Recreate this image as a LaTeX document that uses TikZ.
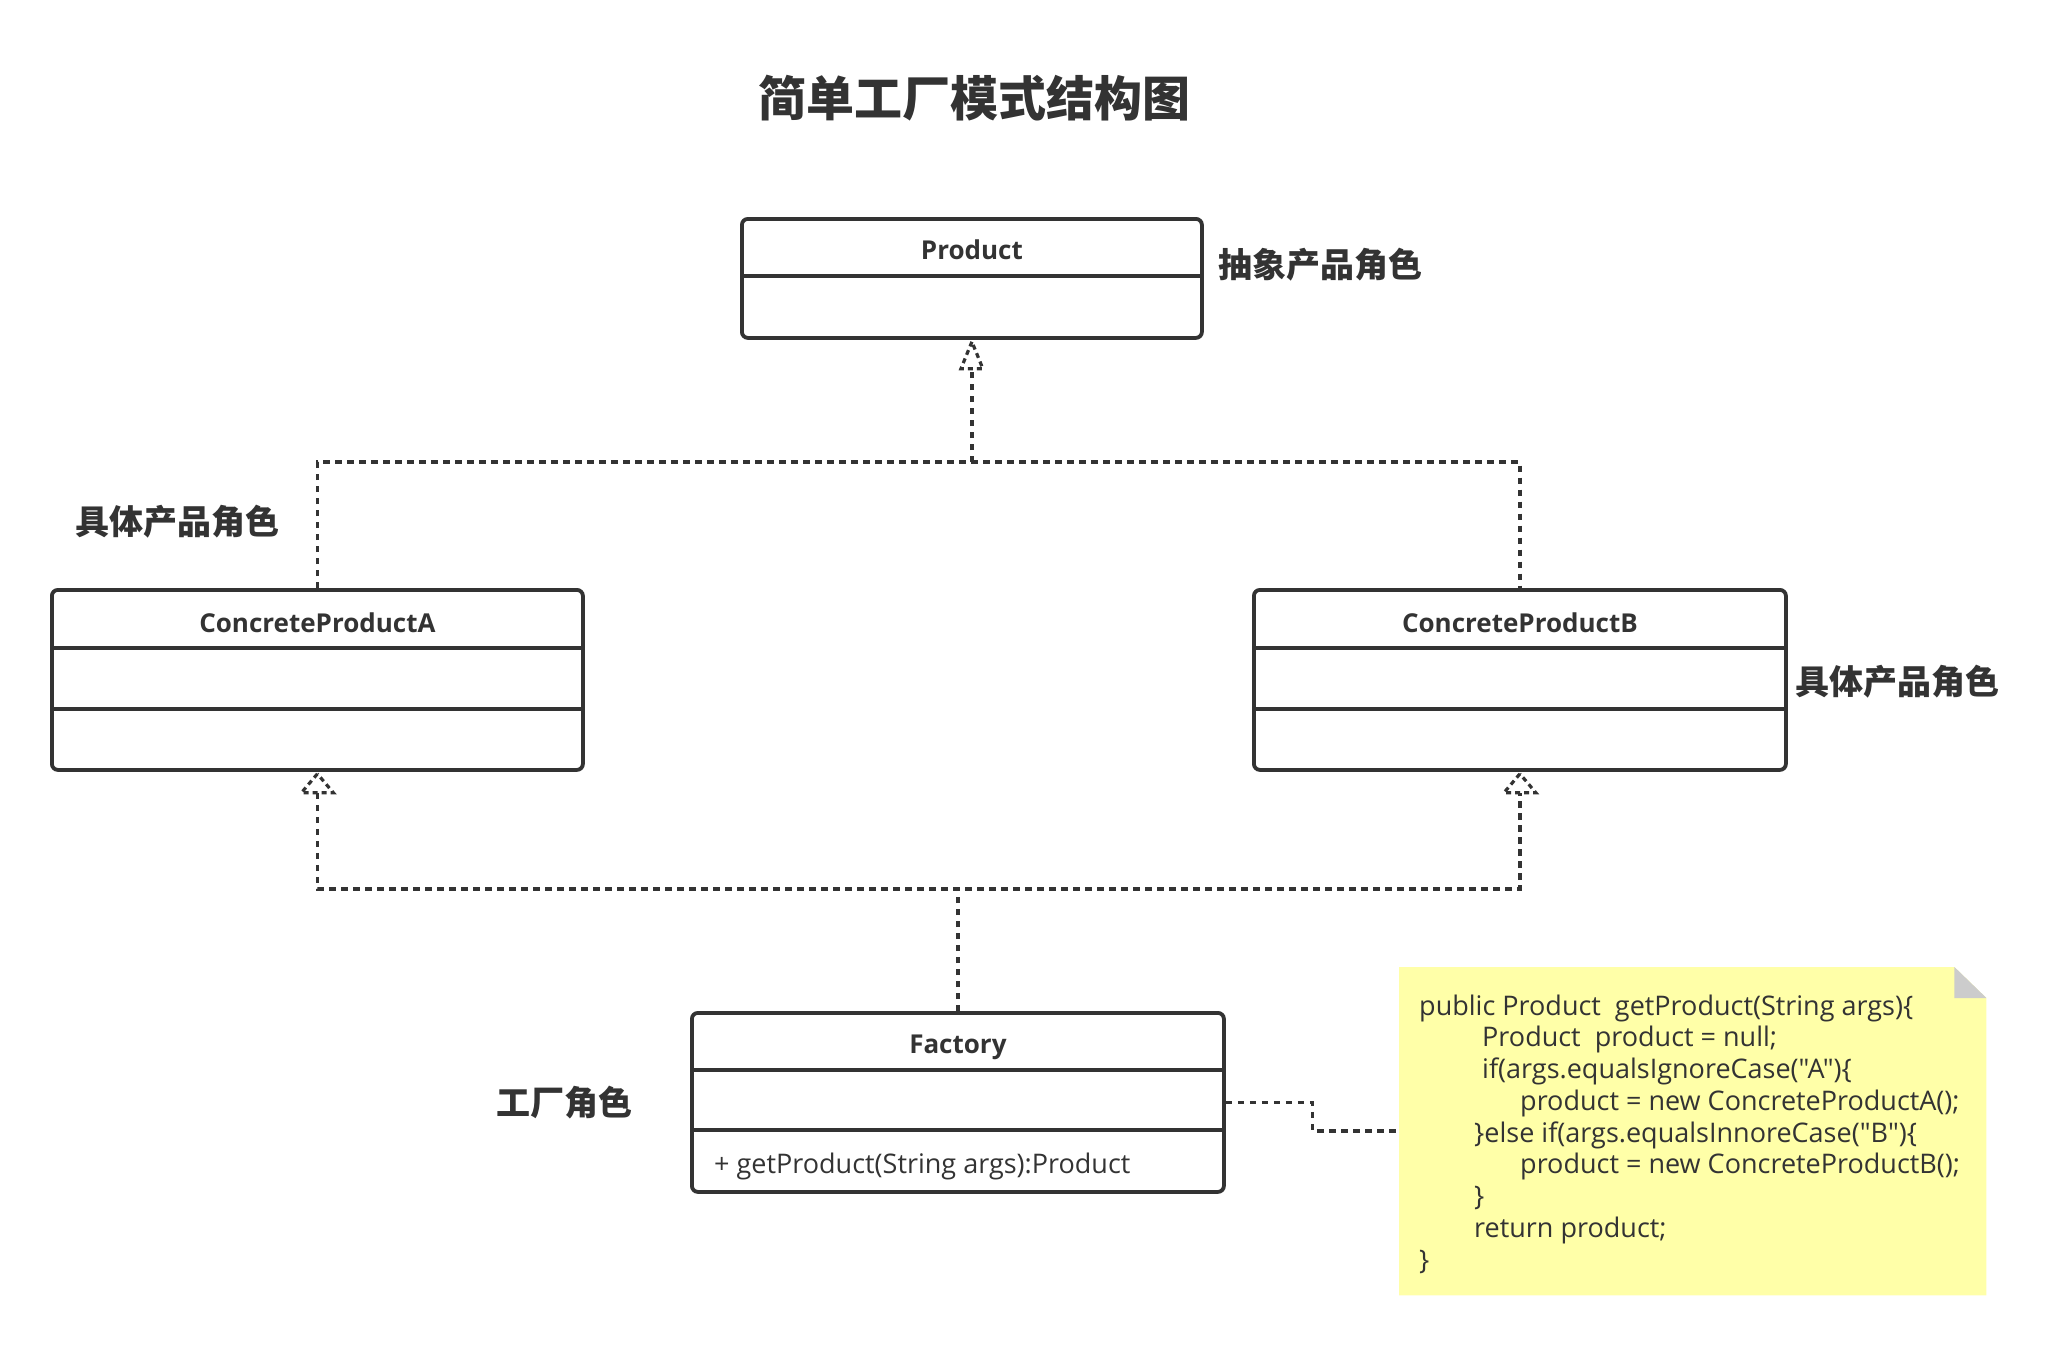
\documentclass[tikz,border=0pt]{standalone}
\usepackage{fontspec}
\setmainfont{Open Sans}
\newfontfamily\codefont{Open Sans}
\newfontfamily\cjk{Noto Sans CJK SC}
\usetikzlibrary{calc}
\definecolor{ink}{HTML}{333333}
\definecolor{notey}{HTML}{FFFFA8}
\definecolor{fold}{HTML}{CCCCCC}
\begin{document}
\begin{tikzpicture}[x=1pt,y=-1pt,
  umlbox/.style={draw=ink, line width=3.8pt, rounded corners=6pt, inner sep=0pt, anchor=north west},
  divider/.style={draw=ink, line width=3.3pt},
  classname/.style={font=\fontsize{26}{30}\selectfont\bfseries, text=ink, inner sep=0pt, anchor=base},
  role/.style={font=\cjk\bfseries\fontsize{34}{40}\selectfont, text=ink, inner sep=0pt, anchor=west},
  dep/.style={draw=ink, line width=3.5pt, dash pattern=on 6.5pt off 5.5pt},
  tipline/.style={draw=ink, line width=3.2pt, dash pattern=on 5pt off 4pt},
  code/.style={font=\codefont\fontsize{27}{32}\selectfont, text=ink, inner sep=0pt, anchor=base west},
]
\useasboundingbox (0,0) rectangle (2058,1347);

% title
\node[font=\cjk\bfseries\fontsize{48}{56}\selectfont, text=ink, inner sep=0pt] (title) at (974,98) {简单工厂模式结构图};

% Product
\node[umlbox, minimum width=460pt, minimum height=119pt] (prod) at (740,217) {};
\draw[divider] ($(prod.north west)+(0,59)$) -- ($(prod.north east)+(0,59)$);
\node[classname] (prodname) at ($(prod.north)+(0,42)$) {Product};
\node[role] (rolep) at (1218,265) {抽象产品角色};

% ConcreteProductA
\node[umlbox, minimum width=531pt, minimum height=180pt] (cpa) at (50,588) {};
\draw[divider] ($(cpa.north west)+(0,60)$) -- ($(cpa.north east)+(0,60)$);
\draw[divider] ($(cpa.north west)+(0,121)$) -- ($(cpa.north east)+(0,121)$);
\node[classname] (cpaname) at ($(cpa.north)+(0,44)$) {ConcreteProductA};
\node[role] (rolea) at (75,522) {具体产品角色};

% ConcreteProductB
\node[umlbox, minimum width=532pt, minimum height=180pt] (cpb) at (1252,588) {};
\draw[divider] ($(cpb.north west)+(0,60)$) -- ($(cpb.north east)+(0,60)$);
\draw[divider] ($(cpb.north west)+(0,121)$) -- ($(cpb.north east)+(0,121)$);
\node[classname] (cpbname) at ($(cpb.north)+(0,44)$) {ConcreteProductB};
\node[role] (roleb) at (1795,682) {具体产品角色};

% Factory
\node[umlbox, minimum width=532pt, minimum height=179pt] (fac) at (690,1011) {};
\draw[divider] ($(fac.north west)+(0,59)$) -- ($(fac.north east)+(0,59)$);
\draw[divider] ($(fac.north west)+(0,119)$) -- ($(fac.north east)+(0,119)$);
\node[classname] (facname) at ($(fac.north)+(0,42)$) {Factory};
\node[code] (method) at (714,1173) {+ getProduct(String args):Product};
\node[role] (rolef) at (496,1103) {工厂角色};

% note
\node[inner sep=0pt, minimum width=587pt, minimum height=328pt, anchor=north west] (note) at (1399,967) {};
\fill[notey] (note.north west) -- ($(note.north east)+(-32,0)$) -- ($(note.north east)+(0,31)$) -- (note.south east) -- (note.south west) -- cycle;
\fill[fold] ($(note.north east)+(-32,0)$) -- ($(note.north east)+(-32,31)$) -- ($(note.north east)+(0,31)$) -- cycle;
\node[code] (c1) at (1419,1015) {public Product\ \ getProduct(String args)\{};
\node[code] (c2) at (1482,1046.75) {Product\ \ product = null;};
\node[code] (c3) at (1482,1078.5) {if(args.equalsIgnoreCase("A")\{};
\node[code] (c4) at (1520,1110.25) {product = new ConcreteProductA();};
\node[code] (c5) at (1474,1142) {\}else if(args.equalsInnoreCase("B")\{};
\node[code] (c6) at (1520,1173.75) {product = new ConcreteProductB();};
\node[code] (c7) at (1474,1205.5) {\}};
\node[code] (c8) at (1474,1237.25) {return product;};
\node[code] (c9) at (1419,1269) {\}};

% realization connectors: products -> Product
\coordinate (h1) at (0,462);
\draw[dep] (cpa.north) -- (cpa.north |- h1) -- (cpb.north |- h1) -- (cpb.north);
\draw[dep] (prod.south |- h1) -- ($(prod.south)+(0,29)$);
\draw[tipline] ($(prod.south)+(0,2)$) -- ++(-11,27) -- ++(22,0) -- cycle;

% dependency connectors: Factory -> products
\coordinate (h2) at (0,889);
\draw[dep] (fac.north) -- (fac.north |- h2);
\draw[dep] ($(cpa.south)+(0,21)$) -- (cpa.south |- h2) -- (cpb.south |- h2) -- ($(cpb.south)+(0,21)$);
\draw[tipline] ($(cpa.south)+(0,2)$) -- ++(-16,19) -- ++(32,0) -- cycle;
\draw[tipline] ($(cpb.south)+(0,2)$) -- ++(-16,19) -- ++(32,0) -- cycle;

% note link
\draw[dep] (fac.east) -| ($(fac.east)!0.5!(note.west)$) |- (note.west);
\end{tikzpicture}
\end{document}
